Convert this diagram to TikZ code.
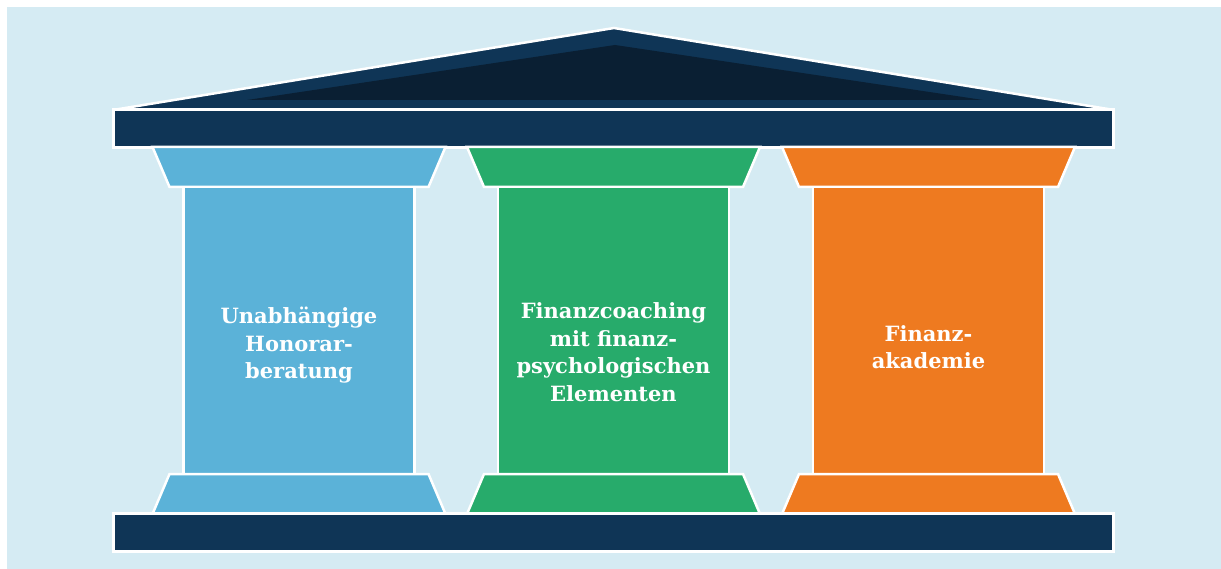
\documentclass[tikz,border=0pt]{standalone}
\usepackage{fontspec}
\setmainfont{DejaVu Serif}
\definecolor{bgblue}{HTML}{D5EBF3}
\definecolor{navy}{HTML}{0F3556}
\definecolor{navydark}{HTML}{0A1F33}
\definecolor{colblue}{HTML}{5BB2D8}
\definecolor{colgreen}{HTML}{27AB6B}
\definecolor{colorange}{HTML}{EE7A20}
\tikzset{
  part/.style={draw=white, line width=2.5pt, line join=miter},
  bar/.style={part, fill=navy, rectangle, minimum width=1000pt, minimum height=38pt, inner sep=0pt},
  shaft/.style={part, rectangle, minimum width=231pt, minimum height=287pt, inner sep=0pt},
  label/.style={text=white, font=\bfseries\fontsize{21}{27.5}\selectfont, align=center},
}
\begin{document}
\begin{tikzpicture}[x=1pt,y=-1pt]
\useasboundingbox (0,0) rectangle (1221,569);
\fill[bgblue] (7,7) rectangle (1221,569);
% roof
\path[part, fill=navy] (113,110) -- (614,28) -- (1114,110) -- cycle;
\fill[navydark] (247,100) -- (615,45) -- (983,100) -- cycle;
\node[bar] (top) at (613.5,128.5) {};
% columns
\foreach \c/\col/\name in {299/colblue/a, 613.5/colgreen/b, 928.5/colorange/c}{
  \path[part, fill=\col] (\c-146.5,147) -- (\c+146.5,147) -- (\c+129.5,187) -- (\c-129.5,187) -- cycle;
  \node[shaft, fill=\col] (shaft\name) at (\c,330.5) {};
  \path[part, fill=\col] (\c-129.5,474) -- (\c+129.5,474) -- (\c+146.5,514) -- (\c-146.5,514) -- cycle;
}
\node[bar] (bottom) at (613.5,532.5) {};
\node[label] (ta) at ([yshift=-15pt]shafta.center) {Unabhängige\\Honorar-\\beratung};
\node[label] (tb) at ([yshift=-21.5pt]shaftb.center) {Finanzcoaching\\mit finanz-\\psychologischen\\Elementen};
\node[label] (tc) at ([yshift=-16.5pt]shaftc.center) {Finanz-\\akademie};
\end{tikzpicture}
\end{document}
